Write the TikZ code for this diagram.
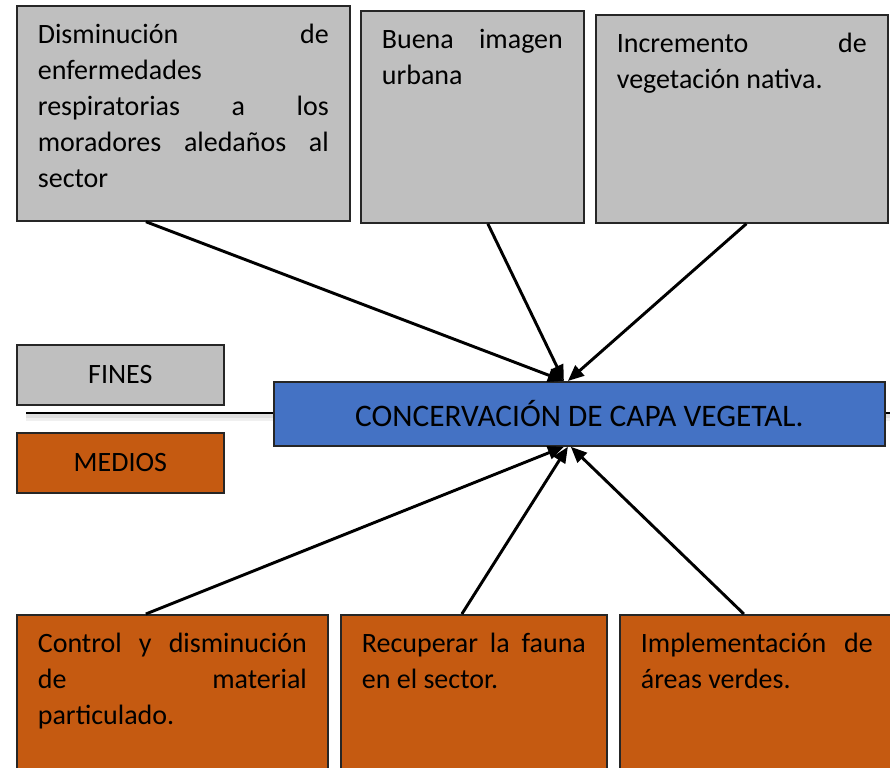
\documentclass[tikz,border=0pt]{standalone}
\usepackage{fontspec}
\setmainfont{Carlito}
\usepackage{xcolor}
\usepackage{tikz}
\usetikzlibrary{positioning,arrows.meta}

\definecolor{finesgris}{HTML}{BFBFBF}
\definecolor{mediosnaranja}{HTML}{C55A11}
\definecolor{capaazul}{HTML}{4472C4}

\tikzset{
  caja/.style={draw=black!85,line width=1.3pt,anchor=north west,inner xsep=15.75pt,inner ysep=0pt,text height=28.5pt},
  finbox/.style={caja,fill=finesgris},
  mediobox/.style={caja,fill=mediosnaranja},
  rotulo/.style={draw=black!85,line width=1.3pt,anchor=north west,inner sep=0pt,minimum width=155.25pt,minimum height=45pt,font=\fontsize{21}{25}\selectfont},
  flecha/.style={line width=2.2pt,-{Triangle[length=12pt,width=10pt]}},
}
\newcommand{\cajatexto}[2]{\parbox[t]{#1}{\fontsize{21}{27}\selectfont #2}}

\begin{document}
\begin{tikzpicture}[x=0.75pt,y=-0.75pt]
    \useasboundingbox (0,0) rectangle (890,768);
    \clip (0,0) rectangle (890,768);

    % Linea divisoria
    \coordinate (lineaIni) at (26,413);
    \coordinate (lineaFin) at (890,413);
    \draw[gray!12,line width=6pt] ([yshift=-3pt]lineaIni) -- ([yshift=-3pt]lineaFin);
    \draw[gray!25,line width=3pt] ([yshift=-2pt]lineaIni) -- ([yshift=-2pt]lineaFin);
    \draw[line width=2.2pt] (lineaIni) -- (lineaFin);

    % Fines
    \node[finbox,text depth=132.75pt] (fin1) at (16,5) {\cajatexto{218.25pt}{Disminución\hfill de\\ enfermedades\\ respiratorias\hfill a\hfill los\\ moradores\hfill aledaños\hfill al\\ sector}};
    \node[finbox,text depth=130.5pt] (fin2) at (360,10) {\cajatexto{135.75pt}{Buena\hfill imagen\\ urbana}};
    \node[finbox,text depth=127.5pt] (fin3) at (595,14) {\cajatexto{187.5pt}{Incremento\hfill de\\ vegetación nativa.}};

    % Rotulos
    \node[rotulo,fill=finesgris] (fines) at (16,344) {FINES};
    \node[rotulo,fill=mediosnaranja] (medios) at (16,432) {MEDIOS};

    % Problema central
    \node[draw=black!85,line width=1.3pt,fill=capaazul,anchor=north west,inner sep=0pt,minimum width=458.25pt,minimum height=48pt,font=\fontsize{23.5}{27}\selectfont] (capa) at (273,381) {CONCERVACIÓN DE CAPA VEGETAL.};

    % Medios
    \node[mediobox,text depth=103.5pt] (medio1) at (16,614) {\cajatexto{201.75pt}{Control\hfill y\hfill disminución\\ de\hfill material\\ particulado.}};
    \node[mediobox,text depth=103.5pt] (medio2) at (340,614) {\cajatexto{168pt}{Recuperar\hfill la\hfill fauna\\ en el sector.}};
    \node[mediobox,text depth=103.5pt] (medio3) at (619,614) {\cajatexto{174pt}{Implementación\hfill de\\ áreas verdes.}};

    % Flechas
    \draw[flecha] ([xshift=-28.1pt]fin1.south) -- ([xshift=-11.6pt]capa.north);
    \draw[flecha] ([xshift=11.6pt]fin2.south) -- ([xshift=-11.6pt]capa.north);
    \draw[flecha] ([xshift=3.4pt]fin3.south) -- ([xshift=-8.6pt]capa.north);
    \draw[flecha] ([xshift=-19.9pt]medio1.north) -- ([xshift=-11.6pt]capa.south);
    \draw[flecha] ([xshift=-9pt]medio2.north) -- ([xshift=-8.6pt]capa.south);
    \draw[flecha] ([xshift=-9.75pt]medio3.north) -- ([xshift=-6.4pt]capa.south);
\end{tikzpicture}
\end{document}
